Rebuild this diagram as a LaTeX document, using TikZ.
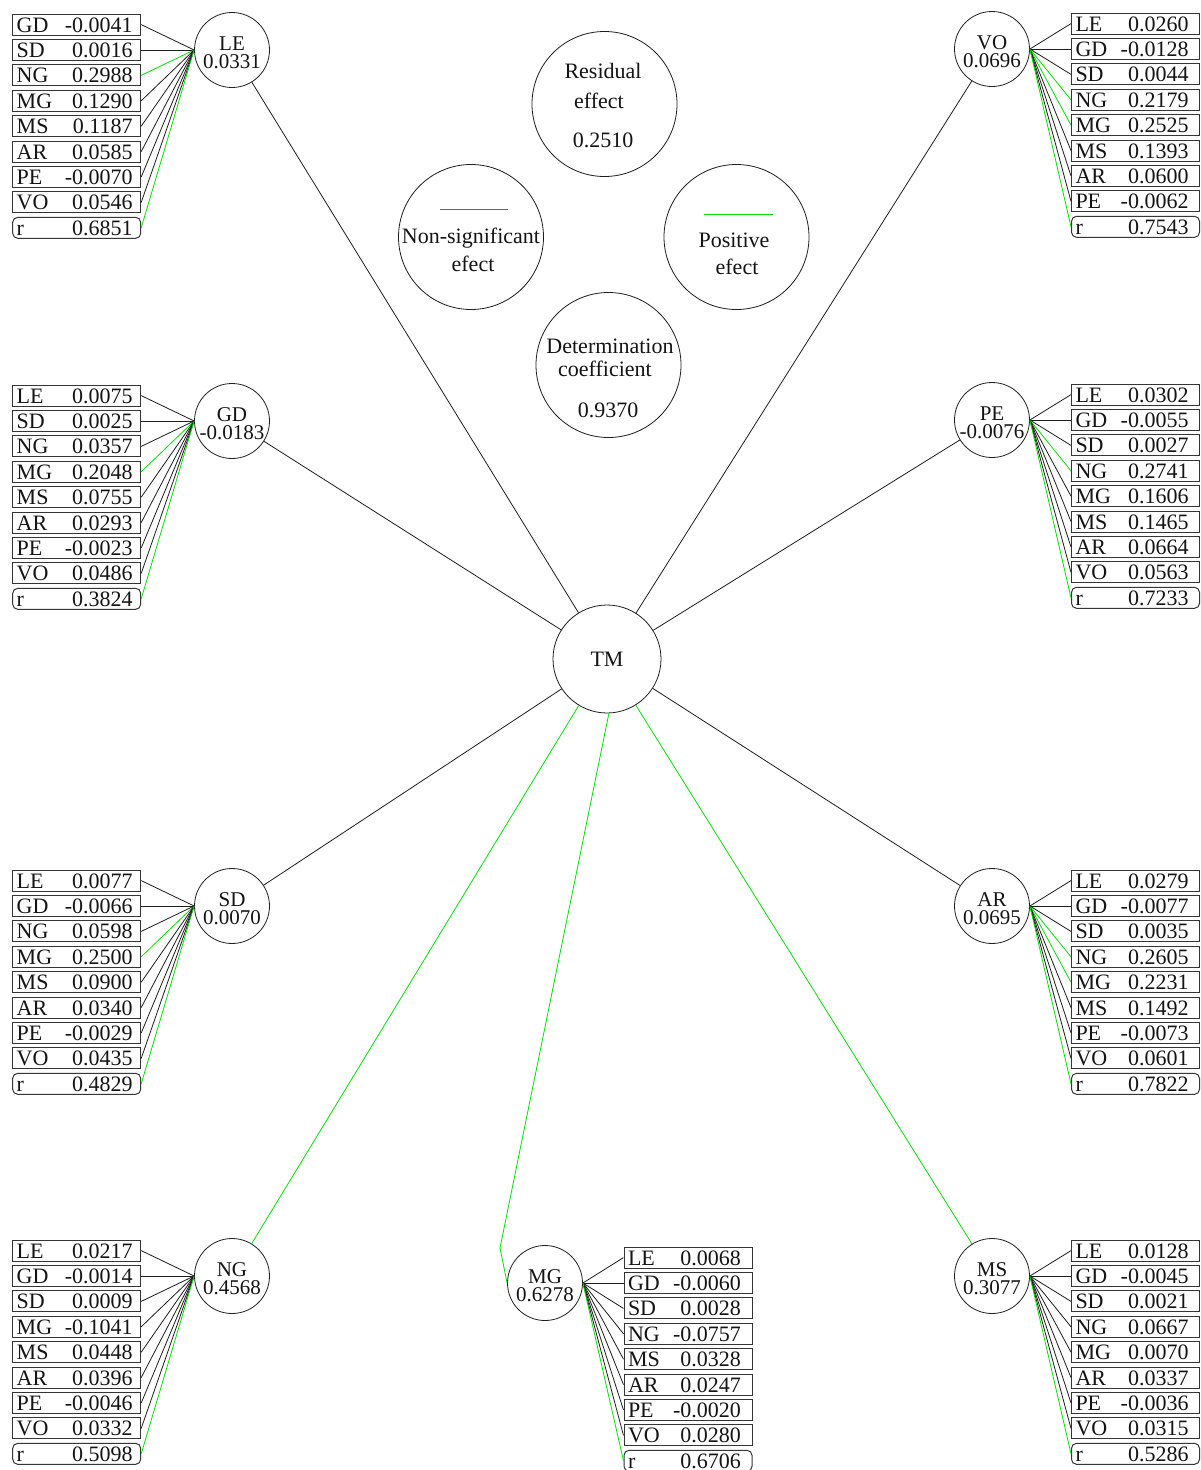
\documentclass[tikz,border=0pt]{standalone}
\usepackage{fontspec}
\setmainfont{Liberation Serif}
\definecolor{posg}{RGB}{0,225,0}
\definecolor{nsc}{RGB}{30,30,30}
\definecolor{txt}{RGB}{20,20,20}
\tikzset{
  conn/.style={line width=0.8pt},
  nsline/.style={conn,draw=nsc},
  posline/.style={conn,draw=posg},
  vbox/.style={draw=nsc!90, line width=1pt, rectangle, minimum width=128pt, minimum height=21pt,
    inner xsep=4pt, inner ysep=0pt, text width=120pt, text height=18pt, text depth=3pt,
    align=left, font=\fontsize{22}{22}\selectfont, text=txt},
  circ/.style={draw=nsc, line width=0.8pt, circle, minimum size=75pt, inner sep=0pt},
  ctext/.style={inner sep=0pt, align=center, font=\fontsize{21}{18}\selectfont, text=txt, yshift=-2.5pt},
  hub/.style={draw=nsc, line width=0.8pt, circle, minimum size=108pt, inner sep=0pt,
    font=\fontsize{22}{22}\selectfont, text=txt},
  leg/.style={draw=nsc, line width=0.8pt, circle, minimum size=145pt, inner sep=0pt},
  legtxt/.style={anchor=base, inner sep=0pt, font=\fontsize{22}{22}\selectfont, text=txt},
}
% left cluster: #1 name, #2 circle y, #3 circle text, #4 list, #5 r value
\newcommand\leftcluster[5]{%
  \node[circ] (c#1) at (232,#2) {};
  \node[ctext] (t#1) at (c#1) {#3};
  \foreach \lab/\val/\col [count=\idx] in {#4} {%
    \node[vbox] (#1-\idx) at (76.7,{#2+(\idx-2)*25.4}) {\lab\hfill\val\hspace*{4pt}};
    \draw[conn,color=\col] (#1-\idx.east) -- (c#1.west);
  }
  \node[vbox,rounded corners=5pt] (#1-9) at (76.7,{#2+7*25.4}) {r\hfill#5\hspace*{4pt}};
  \draw[posline] (#1-9.east) -- (c#1.west);
}
% right cluster: #1 name, #2 circle x, #3 circle y, #4 box centre x, #5 circle text, #6 list, #7 r value
\newcommand\rightcluster[7]{%
  \node[circ] (c#1) at (#2,#3) {};
  \node[ctext] (t#1) at (c#1) {#5};
  \foreach \lab/\val/\col [count=\idx] in {#6} {%
    \node[vbox] (#1-\idx) at (#4,{#3+(\idx-2)*25.4}) {\lab\hfill\val\hspace*{7pt}};
    \draw[conn,color=\col] (c#1.east) -- (#1-\idx.west);
  }
  \node[vbox,rounded corners=5pt] (#1-9) at (#4,{#3+7*25.4}) {r\hfill#7\hspace*{7pt}};
  \draw[posline] (c#1.east) -- (#1-9.west);
}
\begin{document}
\begin{tikzpicture}[x=1pt,y=-1pt]
\useasboundingbox (0,0) rectangle (1200,1470);
\clip (0,0) rectangle (1200,1470);
\fill[white] (0,0) rectangle (1200,1470);

% hub
\node[hub] (TM) at (607,659) {TM};

% clusters
\leftcluster{LE}{50}{LE\\0.0331}{GD/-0.0041/nsc, SD/0.0016/nsc, NG/0.2988/posg, MG/0.1290/nsc, MS/0.1187/nsc, AR/0.0585/nsc, PE/-0.0070/nsc, VO/0.0546/nsc}{0.6851}
\leftcluster{GD}{421}{GD\\-0.0183}{LE/0.0075/nsc, SD/0.0025/nsc, NG/0.0357/nsc, MG/0.2048/posg, MS/0.0755/nsc, AR/0.0293/nsc, PE/-0.0023/nsc, VO/0.0486/nsc}{0.3824}
\leftcluster{SD}{906}{SD\\0.0070}{LE/0.0077/nsc, GD/-0.0066/nsc, NG/0.0598/nsc, MG/0.2500/posg, MS/0.0900/nsc, AR/0.0340/nsc, PE/-0.0029/nsc, VO/0.0435/nsc}{0.4829}
\leftcluster{NG}{1276}{NG\\0.4568}{LE/0.0217/nsc, GD/-0.0014/nsc, SD/0.0009/nsc, MG/-0.1041/nsc, MS/0.0448/nsc, AR/0.0396/nsc, PE/-0.0046/nsc, VO/0.0332/nsc}{0.5098}

\rightcluster{VO}{992}{49}{1135.5}{VO\\0.0696}{LE/0.0260/nsc, GD/-0.0128/nsc, SD/0.0044/nsc, NG/0.2179/posg, MG/0.2525/posg, MS/0.1393/nsc, AR/0.0600/nsc, PE/-0.0062/nsc}{0.7543}
\rightcluster{PE}{992}{420}{1135.5}{PE\\-0.0076}{LE/0.0302/nsc, GD/-0.0055/nsc, SD/0.0027/nsc, NG/0.2741/posg, MG/0.1606/nsc, MS/0.1465/nsc, AR/0.0664/nsc, VO/0.0563/nsc}{0.7233}
\rightcluster{AR}{992}{906}{1135.5}{AR\\0.0695}{LE/0.0279/nsc, GD/-0.0077/nsc, SD/0.0035/nsc, NG/0.2605/posg, MG/0.2231/posg, MS/0.1492/nsc, PE/-0.0073/nsc, VO/0.0601/nsc}{0.7822}
\rightcluster{MS}{992}{1276}{1135.5}{MS\\0.3077}{LE/0.0128/nsc, GD/-0.0045/nsc, SD/0.0021/nsc, NG/0.0667/nsc, MG/0.0070/nsc, AR/0.0337/nsc, PE/-0.0036/nsc, VO/0.0315/nsc}{0.5286}
\rightcluster{MG}{545}{1283}{688}{MG\\0.6278}{LE/0.0068/nsc, GD/-0.0060/nsc, SD/0.0028/nsc, NG/-0.0757/nsc, MS/0.0328/nsc, AR/0.0247/nsc, PE/-0.0020/nsc, VO/0.0280/nsc}{0.6706}

% main connectors
\draw[nsline] (TM) -- (cLE);
\draw[nsline] (TM) -- (cGD);
\draw[nsline] (TM) -- (cSD);
\draw[nsline] (TM) -- (cVO);
\draw[nsline] (TM) -- (cPE);
\draw[nsline] (TM) -- (cAR);
\draw[posline] (TM) -- (cNG);
\draw[posline] (TM) -- (cMS);
\coordinate (mgk) at (500,1248);
\draw[posline] (TM.-88) -- (mgk) -- (cMG.west);

% legend
\node[leg] (lres) at (604.5,104) {};
\node[legtxt] (lres1) at (603,78) {Residual};
\node[legtxt] (lres2) at (599,108) {effect};
\node[legtxt] (lres3) at (603,147) {0.2510};

\node[leg] (lns) at (471,237) {};
\coordinate (lnsa) at (440,209);
\coordinate (lnsb) at (508,209);
\draw[conn,draw=black!60] (lnsa) -- (lnsb);
\node[legtxt] (lns1) at (471,243) {Non-significant};
\node[legtxt] (lns2) at (473,271) {efect};

\node[leg] (lpos) at (736.5,237) {};
\coordinate (lposa) at (704,214);
\coordinate (lposb) at (773,214);
\draw[posline] (lposa) -- (lposb);
\node[legtxt] (lpos1) at (734,247) {Positive};
\node[legtxt] (lpos2) at (737,274) {efect};

\node[leg] (ldet) at (608.5,365) {};
\node[legtxt] (ldet1) at (610,353) {Determination};
\node[legtxt] (ldet2) at (605,376) {coefficient};
\node[legtxt] (ldet3) at (608,417) {0.9370};
\end{tikzpicture}
\end{document}
